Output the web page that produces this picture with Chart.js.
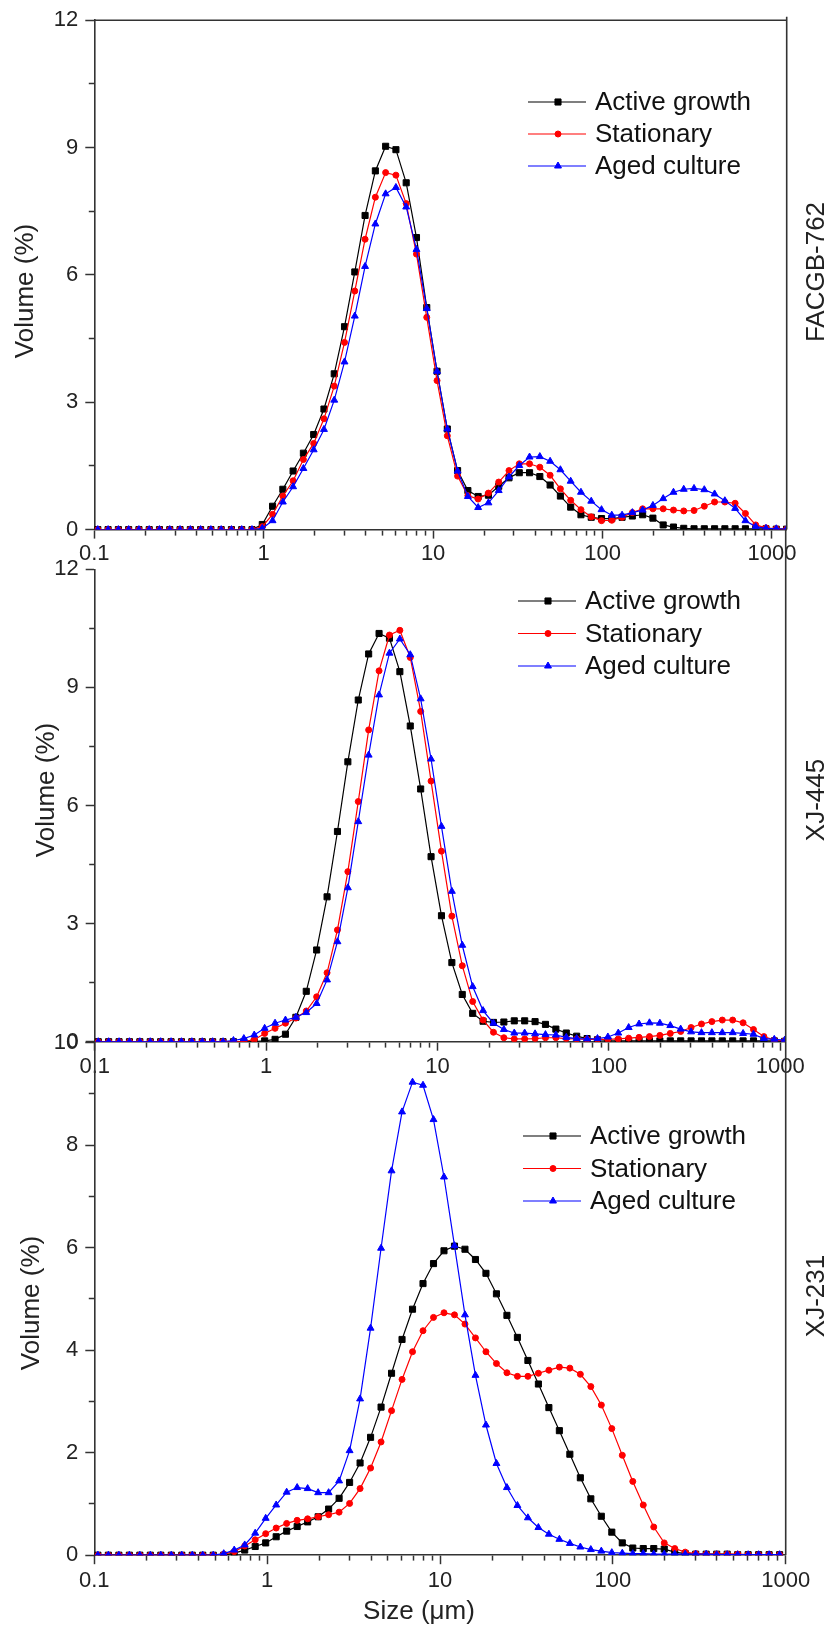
<!DOCTYPE html>
<html>
<head>
<meta charset="utf-8">
<title>Particle size distribution</title>
<script src="https://cdn.jsdelivr.net/npm/chart.js@4.4.1/dist/chart.umd.min.js"></script>
<style>
  html, body { margin: 0; padding: 0; background: #fff; }
  #wrap { position: relative; width: 833px; height: 1629px; }
  #wrap canvas { position: absolute; left: 0; top: 0; }
</style>
</head>
<body>
<div id="wrap">
  <canvas id="p1" width="833" height="1629"></canvas>
  <canvas id="p2" width="833" height="1629"></canvas>
  <canvas id="p3" width="833" height="1629"></canvas>
</div>
<script>
// === Size channels (um) and series ===
const sizes = [0.1049, 0.1206, 0.1387, 0.1595, 0.1834, 0.2109, 0.2425, 0.2789, 0.3207, 0.3688,
  0.4241, 0.4877, 0.5608, 0.6449, 0.7416, 0.8528, 0.9807, 1.1278, 1.2969, 1.4913,
  1.715, 1.9721, 2.2679, 2.608, 2.999, 3.4487, 3.9658, 4.5604, 5.2443, 6.0307,
  6.9349, 7.9749, 9.1708, 10.546, 12.127, 13.946, 16.037, 18.442, 21.207, 24.387,
  28.044, 32.249, 37.085, 42.646, 49.040, 56.394, 64.850, 74.575, 85.757, 98.617,
  113.40, 130.41, 149.96, 172.45, 198.31, 228.05, 262.24, 301.56, 346.78, 398.79,
  458.59, 527.35, 606.43, 697.34, 801.91, 922.11, 1060.4, 1219.4];

const seriesNames = ['Active growth', 'Stationary', 'Aged culture'];

// FACGB-762
const facgbActive = [0, 0, 0, 0, 0, 0, 0, 0, 0, 0, 0, 0, 0, 0, 0, 0,
  0.12, 0.55, 0.95, 1.38, 1.80, 2.24, 2.84, 3.67, 4.78, 6.07, 7.40, 8.45, 9.03, 8.95, 8.17, 6.88,
  5.23, 3.73, 2.37, 1.39, 0.92, 0.78, 0.81, 1.02, 1.22, 1.34, 1.34, 1.25, 1.05, 0.79, 0.53, 0.35,
  0.29, 0.26, 0.26, 0.29, 0.32, 0.35, 0.27, 0.11, 0.06, 0.03, 0.02, 0.02, 0.02, 0.02, 0.02, 0.02,
  0.02, 0.02, 0.01, 0.01];
const facgbStationary = [0, 0, 0, 0, 0, 0, 0, 0, 0, 0, 0, 0, 0, 0, 0, 0,
  0.07, 0.36, 0.79, 1.15, 1.65, 2.03, 2.61, 3.38, 4.41, 5.62, 6.84, 7.83, 8.41, 8.35, 7.68, 6.49,
  5.00, 3.51, 2.21, 1.26, 0.80, 0.72, 0.86, 1.12, 1.39, 1.55, 1.55, 1.47, 1.28, 0.96, 0.69, 0.47,
  0.30, 0.21, 0.22, 0.29, 0.40, 0.49, 0.49, 0.49, 0.46, 0.44, 0.45, 0.55, 0.65, 0.65, 0.62, 0.38,
  0.11, 0.04, 0.02, 0.01];
const facgbAged = [0, 0, 0, 0, 0, 0, 0, 0, 0, 0, 0, 0, 0, 0, 0, 0,
  0.03, 0.21, 0.65, 1.01, 1.44, 1.88, 2.36, 3.05, 3.95, 5.03, 6.20, 7.20, 7.91, 8.06, 7.60, 6.60,
  5.21, 3.73, 2.37, 1.38, 0.78, 0.52, 0.63, 0.92, 1.24, 1.51, 1.71, 1.72, 1.61, 1.41, 1.14, 0.88,
  0.67, 0.47, 0.34, 0.34, 0.40, 0.46, 0.57, 0.73, 0.88, 0.95, 0.97, 0.94, 0.84, 0.68, 0.50, 0.21,
  0.07, 0.03, 0.02, 0.01];

// XJ-445
const xj445Active = [0, 0, 0, 0, 0, 0, 0, 0, 0, 0, 0, 0, 0, 0, 0, 0,
  0.02, 0.06, 0.19, 0.62, 1.28, 2.33, 3.68, 5.34, 7.11, 8.68, 9.85, 10.37, 10.25, 9.40, 8.02, 6.42,
  4.70, 3.20, 2.01, 1.20, 0.72, 0.52, 0.49, 0.50, 0.53, 0.53, 0.51, 0.44, 0.32, 0.22, 0.14, 0.08,
  0.05, 0.03, 0.02, 0.02, 0.02, 0.02, 0.02, 0.02, 0.02, 0.02, 0.02, 0.02, 0.02, 0.02, 0.02, 0.02,
  0.02, 0.02, 0.01, 0.01];
const xj445Stationary = [0, 0, 0, 0, 0, 0, 0, 0, 0, 0, 0, 0, 0, 0, 0.01,
  0.05, 0.21, 0.34, 0.47, 0.60, 0.78, 1.14, 1.75, 2.84, 4.32, 6.10, 7.92, 9.42, 10.33, 10.45, 9.76,
  8.39, 6.62, 4.84, 3.19, 1.93, 1.02, 0.55, 0.24, 0.10, 0.07, 0.07, 0.08, 0.10, 0.10, 0.08, 0.07,
  0.06, 0.06, 0.06, 0.07, 0.09, 0.11, 0.13, 0.16, 0.21, 0.26, 0.36, 0.45, 0.51, 0.55, 0.55, 0.48,
  0.31, 0.13, 0.04, 0.02, 0.01];
const xj445Aged = [0, 0, 0, 0, 0, 0, 0, 0, 0, 0, 0, 0, 0,
  0.03, 0.08, 0.17, 0.34, 0.47, 0.55, 0.62, 0.74, 0.97, 1.57, 2.54, 3.91, 5.59, 7.28, 8.81, 9.87,
  10.23, 9.83, 8.71, 7.18, 5.47, 3.82, 2.45, 1.40, 0.79, 0.47, 0.31, 0.22, 0.22, 0.20, 0.18, 0.17,
  0.11, 0.08, 0.07, 0.08, 0.12, 0.22, 0.36, 0.45, 0.48, 0.47, 0.41, 0.32, 0.25, 0.23, 0.23, 0.23,
  0.23, 0.21, 0.19, 0.08, 0.06, 0.04, 0.02];

// XJ-231
const xj231Active = [0, 0, 0, 0, 0, 0, 0, 0, 0, 0, 0, 0, 0,
  0.04, 0.10, 0.17, 0.24, 0.36, 0.47, 0.56, 0.65, 0.75, 0.90, 1.11, 1.42, 1.80, 2.30, 2.89, 3.55,
  4.21, 4.80, 5.30, 5.69, 5.94, 6.03, 5.97, 5.77, 5.50, 5.10, 4.68, 4.25, 3.80, 3.34, 2.88, 2.43,
  1.97, 1.51, 1.10, 0.76, 0.45, 0.24, 0.14, 0.13, 0.13, 0.12, 0.06, 0.03, 0.02,
  0.02, 0.02, 0.02, 0.01, 0.01, 0.01, 0.01, 0.01, 0.01, 0.01];
const xj231Stationary = [0, 0, 0, 0, 0, 0, 0, 0, 0, 0, 0, 0,
  0.02, 0.07, 0.18, 0.30, 0.42, 0.53, 0.62, 0.68, 0.71, 0.75, 0.79, 0.84, 1.01, 1.30, 1.70, 2.21,
  2.82, 3.43, 3.97, 4.38, 4.64, 4.73, 4.69, 4.51, 4.24, 3.97, 3.74, 3.56, 3.49, 3.49, 3.55, 3.61,
  3.67, 3.65, 3.53, 3.29, 2.93, 2.47, 1.95, 1.44, 0.98, 0.55, 0.24, 0.13, 0.06, 0.03,
  0.02, 0.02, 0.02, 0.02, 0.01, 0.01, 0.01, 0.01, 0.01, 0.01];
const xj231Aged = [0, 0, 0, 0, 0, 0, 0, 0, 0, 0, 0, 0,
  0.03, 0.10, 0.20, 0.43, 0.72, 0.98, 1.23, 1.32, 1.30, 1.22, 1.22, 1.45, 2.04, 3.05, 4.43, 5.99,
  7.50, 8.65, 9.23, 9.17, 8.50, 7.38, 6.04, 4.69, 3.51, 2.54, 1.79, 1.32, 0.97, 0.73, 0.54, 0.41,
  0.31, 0.23, 0.16, 0.11, 0.08, 0.05, 0.04, 0.03, 0.03,
  0.02, 0.02, 0.02, 0.02, 0.02, 0.02, 0.01, 0.01, 0.01, 0.01, 0.01, 0.01, 0.01, 0.01, 0.01];

// tick values and the ones that carry a label
const xTicks = [0.1, 0.2, 0.3, 0.4, 0.5, 0.6, 0.7, 0.8, 0.9, 1, 2, 3, 4, 5, 6, 7, 8, 9,
  10, 20, 30, 40, 50, 60, 70, 80, 90, 100, 200, 300, 400, 500, 600, 700, 800, 900, 1000];
const xLabels = [0.1, 1, 10, 100, 1000];
const yTicks12 = [0, 1.5, 3, 4.5, 6, 7.5, 9, 10.5, 12];
const yLabels12 = [0, 3, 6, 9, 12];
const yTicks10 = [0, 1, 2, 3, 4, 5, 6, 7, 8, 9, 10];
const yLabels10 = [0, 2, 4, 6, 8, 10];

Chart.defaults.font.family = "'Liberation Sans', Arial, sans-serif";
Chart.defaults.color = '#222';

const styles = [
  { color: '#000000', pointStyle: 'rect', radius: 4.3 },
  { color: '#ff0000', pointStyle: 'circle', radius: 3 },
  { color: '#0000ff', pointStyle: 'triangle', radius: 4 }
];
const axisColor = '#333';
const FONT = "'Liberation Sans', Arial, sans-serif";

function vText(ctx, text, x, y) {
  ctx.save();
  ctx.translate(x, y);
  ctx.rotate(-Math.PI / 2);
  ctx.textAlign = 'center';
  ctx.textBaseline = 'middle';
  ctx.fillText(text, 0, 0);
  ctx.restore();
}

// frame lines, side labels and the line+marker legend
const extras = {
  id: 'extras',
  afterDraw(chart, args, o) {
    const ctx = chart.ctx;
    const a = chart.chartArea;
    ctx.save();
    ctx.strokeStyle = axisColor;
    ctx.lineWidth = 1.6;
    ctx.beginPath();
    if (o.topBorder) {
      ctx.moveTo(a.left, a.top);
      ctx.lineTo(a.right, a.top);
    }
    ctx.moveTo(a.right, o.frameTop);
    ctx.lineTo(a.right, a.bottom);
    ctx.stroke();

    ctx.fillStyle = '#222';
    ctx.font = '26px ' + FONT;
    vText(ctx, 'Volume (%)', o.yTitle[0], o.yTitle[1]);
    vText(ctx, o.name, 817, o.nameY);
    if (o.xTitle) {
      ctx.textAlign = 'center';
      ctx.textBaseline = 'middle';
      ctx.fillText('Size (μm)', o.xTitle[0], o.xTitle[1]);
    }

    // legend
    const lg = o.legend;
    chart.data.datasets.forEach((ds, i) => {
      const y = lg.y + i * lg.gap;
      ctx.strokeStyle = ds.borderColor;
      ctx.fillStyle = ds.backgroundColor;
      ctx.lineWidth = 1.2;
      ctx.beginPath();
      ctx.moveTo(lg.x, y);
      ctx.lineTo(lg.x + 58, y);
      ctx.stroke();
      ctx.lineWidth = 1;
      Chart.helpers.drawPoint(ctx, { pointStyle: ds.pointStyle, radius: ds.pointRadius, rotation: 0, borderWidth: 1 }, lg.x + 30, y);
      ctx.fillStyle = '#111';
      ctx.font = '26px ' + FONT;
      ctx.textAlign = 'left';
      ctx.textBaseline = 'middle';
      ctx.fillText(ds.label, lg.x + 67, y + 1);
    });
    ctx.restore();
  }
};

function makePanel(id, p) {
  const datasets = p.values.map((vals, i) => ({
    label: seriesNames[i],
    data: sizes.map((x, k) => ({ x: x, y: vals[k] })).filter(pt => pt.x <= p.xMax),
    borderColor: styles[i].color,
    backgroundColor: styles[i].color,
    pointStyle: styles[i].pointStyle,
    pointRadius: styles[i].radius,
    pointBorderWidth: 1,
    borderWidth: 1.2,
    tension: 0,
    order: 3 - i
  }));

  new Chart(document.getElementById(id), {
    type: 'line',
    data: { datasets },
    options: {
      responsive: false,
      animation: false,
      devicePixelRatio: 1,
      events: [],
      layout: { padding: p.padding },
      plugins: {
        legend: { display: false },
        tooltip: { enabled: false },
        extras: p.extras
      },
      scales: {
        x: {
          type: 'logarithmic',
          min: 0.1,
          max: p.xMax,
          afterBuildTicks: s => { s.ticks = xTicks.map(v => ({ value: v })); },
          afterFit: s => { s.height = 40; },
          ticks: {
            autoSkip: false,
            maxRotation: 0,
            padding: p.xPad,
            font: { size: 22 },
            color: '#222',
            callback: v => xLabels.includes(v) ? String(v) : ''
          },
          grid: {
            drawOnChartArea: false,
            tickLength: 9,
            tickColor: axisColor,
            tickWidth: 1.5,
            tickBorderDash: c => xLabels.includes(c.tick && c.tick.value) ? [] : [5, 30]
          },
          border: { color: axisColor, width: 1.6 }
        },
        y: {
          min: 0,
          max: p.yMax,
          afterBuildTicks: s => { s.ticks = p.yTicks.map(v => ({ value: v })); },
          afterFit: s => { s.width = 60; },
          ticks: {
            autoSkip: false,
            padding: 7,
            font: { size: 22 },
            color: '#222',
            callback: v => p.yLabels.includes(v) ? String(v) : ''
          },
          grid: {
            drawOnChartArea: false,
            tickLength: 9,
            tickColor: axisColor,
            tickWidth: 1.5,
            tickBorderDash: c => p.yLabels.includes(c.tick && c.tick.value) ? [] : [0, 3.5, 10, 30]
          },
          border: { color: axisColor, width: 1.6 }
        }
      }
    },
    plugins: [extras]
  });
}

makePanel('p1', {
  values: [facgbActive, facgbStationary, facgbAged],
  xMax: 1222, yMax: 12, yTicks: yTicks12, yLabels: yLabels12, xPad: 2,
  padding: { left: 34.3, right: 46.3, top: 16.7, bottom: 1059.4 },
  extras: {
    topBorder: true, frameTop: 16.7, name: 'FACGB-762', nameY: 272, yTitle: [26, 291],
    legend: { x: 528, y: 102, gap: 32 }
  }
});

makePanel('p2', {
  values: [xj445Active, xj445Stationary, xj445Aged],
  xMax: 1075, yMax: 12, yTicks: yTicks12, yLabels: yLabels12, xPad: 3,
  padding: { left: 34.7, right: 47.3, top: 569.3, bottom: 547.3 },
  extras: {
    topBorder: false, frameTop: 529.6, name: 'XJ-445', nameY: 800, yTitle: [47, 790],
    legend: { x: 518, y: 601, gap: 32.5 }
  }
});

makePanel('p3', {
  values: [xj231Active, xj231Stationary, xj231Aged],
  xMax: 1000, yMax: 10, yTicks: yTicks10, yLabels: yLabels10, xPad: 4,
  padding: { left: 34.3, right: 47.3, top: 1042.7, bottom: 33.8 },
  extras: {
    topBorder: false, frameTop: 1041.7, name: 'XJ-231', nameY: 1296, yTitle: [32, 1303],
    xTitle: [419, 1612],
    legend: { x: 523, y: 1136, gap: 32.5 }
  }
});
</script>
</body>
</html>
